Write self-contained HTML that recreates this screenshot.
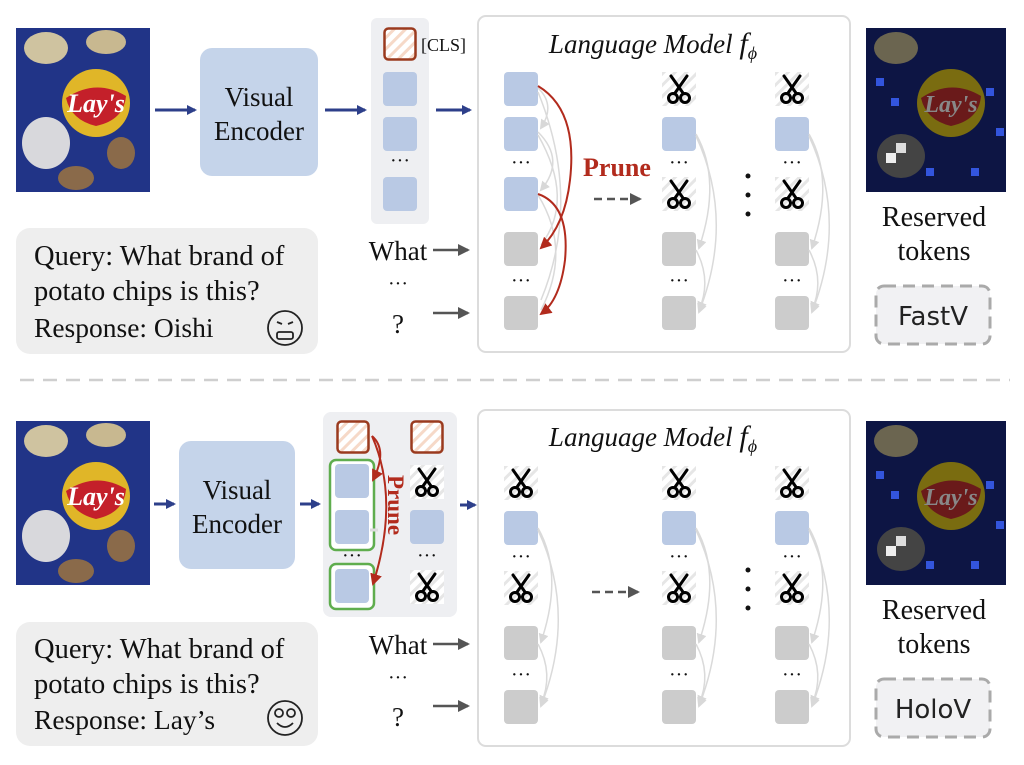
<!DOCTYPE html>
<html><head><meta charset="utf-8"><style>
html,body{margin:0;padding:0;background:#fff;}
svg{display:block;}
text{font-family:"Liberation Serif",serif;fill:#111;}
</style></head><body>
<svg width="1024" height="765" viewBox="0 0 1024 765" xmlns="http://www.w3.org/2000/svg">
<defs>
<pattern id="hatch" width="8" height="8" patternUnits="userSpaceOnUse" patternTransform="rotate(45)">
<rect width="8" height="8" fill="#fff"/><rect width="3" height="8" fill="#e6e6e6"/></pattern>
<pattern id="hatcho" width="8" height="8" patternUnits="userSpaceOnUse" patternTransform="rotate(45)">
<rect width="8" height="8" fill="#fff"/><rect width="3" height="8" fill="#f6d9c8"/></pattern>
<symbol id="sc" viewBox="0 0 34 34">
<rect width="34" height="34" fill="url(#hatch)"/>
<g stroke="#000" stroke-width="3" fill="none" stroke-linecap="round">
<line x1="13" y1="21" x2="25" y2="4"/><line x1="21" y1="21" x2="9" y2="4"/>
<circle cx="11" cy="26" r="4.5"/><circle cx="23" cy="26" r="4.5"/></g></symbol>
<symbol id="bl" viewBox="0 0 34 34"><rect width="34" height="34" rx="4" fill="#b9c9e4"/></symbol>
<symbol id="gr" viewBox="0 0 34 34"><rect width="34" height="34" rx="4" fill="#cccccc"/></symbol>
<symbol id="cls" viewBox="0 0 34 34"><rect x="1.5" y="1.5" width="31" height="31" rx="4" fill="url(#hatcho)" stroke="#9a3a1e" stroke-width="2.5"/></symbol>
<marker id="ab" markerWidth="10" markerHeight="10" refX="8" refY="5" orient="auto" markerUnits="userSpaceOnUse"><path d="M0,0 L10,5 L0,10z" fill="#2d3f8a"/></marker>
<marker id="ag" markerWidth="12" markerHeight="12" refX="10" refY="6" orient="auto" markerUnits="userSpaceOnUse"><path d="M0,0 L12,6 L0,12z" fill="#555"/></marker>
<marker id="ar" markerWidth="12" markerHeight="12" refX="10" refY="6" orient="auto" markerUnits="userSpaceOnUse"><path d="M0,0 L12,6 L0,12z" fill="#b22b1d"/></marker>
<marker id="al" markerWidth="10" markerHeight="10" refX="8" refY="5" orient="auto" markerUnits="userSpaceOnUse"><path d="M0,0 L10,5 L0,10z" fill="#d8d8d8"/></marker>
<symbol id="chips" viewBox="0 0 134 164">
<rect width="134" height="164" fill="#1f2f7a"/>
<rect x="0" y="0" width="134" height="164" fill="#23398f" opacity="0.6"/>
<ellipse cx="30" cy="20" rx="22" ry="16" fill="#cfc3a0"/>
<ellipse cx="90" cy="14" rx="20" ry="12" fill="#c8b890"/>
<circle cx="80" cy="75" r="34" fill="#e0b628"/>
<path d="M50,70 Q80,50 110,68 Q108,92 80,98 Q55,92 50,70z" fill="#c4202a"/>
<text x="80" y="84" font-size="26" font-style="italic" font-weight="bold" text-anchor="middle" style="fill:#fff">Lay's</text>
<ellipse cx="30" cy="115" rx="24" ry="26" fill="#d8d8dc"/>
<ellipse cx="105" cy="125" rx="14" ry="16" fill="#8a6a4a"/>
<ellipse cx="60" cy="150" rx="18" ry="12" fill="#8a6a4a"/>
</symbol>
<symbol id="chipsd" viewBox="0 0 140 164">
<rect width="140" height="164" fill="#0d1544"/>
<ellipse cx="30" cy="20" rx="22" ry="16" fill="#6b6550"/>
<circle cx="85" cy="75" r="34" fill="#7a6c10"/>
<path d="M55,70 Q85,50 115,68 Q113,92 85,98 Q60,92 55,70z" fill="#6a1a1a"/>
<text x="85" y="84" font-size="24" font-style="italic" font-weight="bold" text-anchor="middle" style="fill:#888">Lay's</text>
<ellipse cx="35" cy="128" rx="24" ry="22" fill="#444"/>
<rect x="10" y="50" width="8" height="8" fill="#3355dd"/><rect x="25" y="70" width="8" height="8" fill="#3355dd"/>
<rect x="120" y="60" width="8" height="8" fill="#3355dd"/><rect x="105" y="140" width="8" height="8" fill="#3355dd"/>
<rect x="60" y="140" width="8" height="8" fill="#3355dd"/><rect x="130" y="100" width="8" height="8" fill="#3355dd"/>
<rect x="30" y="115" width="10" height="10" fill="#ddd"/><rect x="20" y="125" width="10" height="10" fill="#eee"/>
</symbol>
</defs>

<!-- ============ TOP ============ -->
<use href="#chips" x="16" y="28" width="134" height="164"/>
<line x1="155" y1="110" x2="195" y2="110" stroke="#2d3f8a" stroke-width="3" marker-end="url(#ab)"/>
<rect x="200" y="48" width="118" height="128" rx="12" fill="#c5d4ea"/>
<text x="259" y="106" font-size="27" text-anchor="middle">Visual</text>
<text x="259" y="140" font-size="27" text-anchor="middle">Encoder</text>
<line x1="325" y1="110" x2="365" y2="110" stroke="#2d3f8a" stroke-width="3" marker-end="url(#ab)"/>
<rect x="371" y="18" width="58" height="206" rx="6" fill="#eeeff2"/>
<use href="#cls" x="383" y="27" width="34" height="34"/>
<text x="421" y="51" font-size="18">[CLS]</text>
<use href="#bl" x="383" y="72" width="34" height="34"/>
<use href="#bl" x="383" y="117" width="34" height="34"/>
<text x="400" y="167" font-size="20" text-anchor="middle">···</text>
<use href="#bl" x="383" y="177" width="34" height="34"/>
<line x1="436" y1="110" x2="470" y2="110" stroke="#2d3f8a" stroke-width="3" marker-end="url(#ab)"/>
<text x="398" y="260" font-size="27" text-anchor="middle">What</text>
<line x1="433" y1="250" x2="468" y2="250" stroke="#555" stroke-width="2.5" marker-end="url(#ag)"/>
<text x="398" y="290" font-size="20" text-anchor="middle">···</text>
<text x="398" y="333" font-size="27" text-anchor="middle">?</text>
<line x1="433" y1="313" x2="468" y2="313" stroke="#555" stroke-width="2.5" marker-end="url(#ag)"/>

<rect x="478" y="16" width="372" height="336" rx="8" fill="#fff" stroke="#dcdcdc" stroke-width="2"/>
<text x="653" y="53" font-size="27" font-style="italic" text-anchor="middle">Language Model  <tspan font-size="30">f</tspan><tspan font-size="18" dy="6">ϕ</tspan></text>

<!-- col1 -->
<use href="#bl" x="504" y="72" width="34" height="34"/>
<use href="#bl" x="504" y="117" width="34" height="34"/>
<text x="521" y="169" font-size="20" text-anchor="middle">···</text>
<use href="#bl" x="504" y="177" width="34" height="34"/>
<use href="#gr" x="504" y="232" width="34" height="34"/>
<text x="521" y="287" font-size="20" text-anchor="middle">···</text>
<use href="#gr" x="504" y="296" width="34" height="34"/>
<g fill="none" stroke="#dadada" stroke-width="1.5">
<path d="M538,88 Q556,105 541,128" marker-end="url(#al)"/>
<path d="M538,132 Q566,160 541,190" marker-end="url(#al)"/>
<path d="M538,135 Q575,200 541,245"/>
<path d="M538,195 Q572,250 541,310"/>
<path d="M538,92 Q582,200 541,300"/>
</g>
<g fill="none" stroke="#b22b1d" stroke-width="2">
<path d="M538,86 Q578,110 570,180 Q565,225 541,248" marker-end="url(#ar)"/>
<path d="M538,194 Q570,205 565,260 Q560,300 541,314" marker-end="url(#ar)"/>
</g>
<text x="617" y="176" font-size="26" font-weight="bold" text-anchor="middle" style="fill:#b22b1d">Prune</text>
<line x1="594" y1="199" x2="640" y2="199" stroke="#555" stroke-width="2.5" stroke-dasharray="8,5" marker-end="url(#ag)"/>

<g>
<use href="#sc" x="662" y="72" width="34" height="34"/>
<use href="#bl" x="662" y="117" width="34" height="34"/>
<text x="679" y="169" font-size="20" text-anchor="middle">···</text>
<use href="#sc" x="662" y="177" width="34" height="34"/>
<use href="#gr" x="662" y="232" width="34" height="34"/>
<text x="679" y="287" font-size="20" text-anchor="middle">···</text>
<use href="#gr" x="662" y="296" width="34" height="34"/>
<g fill="none" stroke="#dadada" stroke-width="1.5">
<path d="M696,134 Q722,180 699,248" marker-end="url(#al)"/>
<path d="M696,136 Q735,220 699,312" marker-end="url(#al)"/>
<path d="M696,250 Q712,280 699,310" marker-end="url(#al)"/>
</g>
</g>
<g transform="translate(113,0)">
<use href="#sc" x="662" y="72" width="34" height="34"/>
<use href="#bl" x="662" y="117" width="34" height="34"/>
<text x="679" y="169" font-size="20" text-anchor="middle">···</text>
<use href="#sc" x="662" y="177" width="34" height="34"/>
<use href="#gr" x="662" y="232" width="34" height="34"/>
<text x="679" y="287" font-size="20" text-anchor="middle">···</text>
<use href="#gr" x="662" y="296" width="34" height="34"/>
<g fill="none" stroke="#dadada" stroke-width="1.5">
<path d="M696,134 Q722,180 699,248" marker-end="url(#al)"/>
<path d="M696,136 Q735,220 699,312" marker-end="url(#al)"/>
<path d="M696,250 Q712,280 699,310" marker-end="url(#al)"/>
</g>
</g>
<circle cx="748" cy="176" r="2.5" fill="#111"/><circle cx="748" cy="195" r="2.5" fill="#111"/><circle cx="748" cy="214" r="2.5" fill="#111"/>

<rect x="16" y="228" width="302" height="126" rx="14" fill="#eeeeee"/>
<text x="34" y="265" font-size="28.5">Query: What brand of</text>
<text x="34" y="300" font-size="28.5">potato chips is this?</text>
<text x="34" y="337" font-size="27.5">Response: Oishi</text>
<g fill="none" stroke="#222" stroke-width="1.8">
<circle cx="285" cy="328" r="17"/>
<path d="M277,322 l5,2 M293,322 l-5,2"/>
<rect x="277" y="332" width="16" height="7" rx="2"/>
</g>

<use href="#chipsd" x="866" y="28" width="140" height="164"/>
<text x="934" y="226" font-size="28" text-anchor="middle">Reserved</text>
<text x="934" y="260" font-size="28" text-anchor="middle">tokens</text>
<rect x="876" y="286" width="114" height="58" rx="8" fill="#f1f1f3" stroke="#aaa" stroke-width="3" stroke-dasharray="12,7"/>
<text x="933" y="325" font-size="26" text-anchor="middle" style="font-family:'DejaVu Sans',sans-serif;fill:#222">FastV</text>

<line x1="20" y1="380" x2="1010" y2="380" stroke="#cfcfcf" stroke-width="2.5" stroke-dasharray="14,9"/>

<!-- ============ BOTTOM ============ -->
<use href="#chips" x="16" y="421" width="134" height="164"/>
<line x1="154" y1="504" x2="174" y2="504" stroke="#2d3f8a" stroke-width="3" marker-end="url(#ab)"/>
<rect x="179" y="441" width="116" height="128" rx="12" fill="#c5d4ea"/>
<text x="237" y="499" font-size="27" text-anchor="middle">Visual</text>
<text x="237" y="533" font-size="27" text-anchor="middle">Encoder</text>
<line x1="300" y1="504" x2="319" y2="504" stroke="#2d3f8a" stroke-width="3" marker-end="url(#ab)"/>

<rect x="323" y="412" width="134" height="205" rx="8" fill="#eeeff2"/>
<use href="#cls" x="336" y="420" width="34" height="34"/>
<rect x="330" y="460" width="44" height="90" rx="6" fill="#fff" stroke="#5fad4e" stroke-width="2.5"/>
<use href="#bl" x="335" y="464" width="34" height="34"/>
<use href="#bl" x="335" y="510" width="34" height="34"/>
<text x="352" y="562" font-size="20" text-anchor="middle">···</text>
<rect x="330" y="564" width="44" height="45" rx="6" fill="#fff" stroke="#5fad4e" stroke-width="2.5"/>
<use href="#bl" x="335" y="569" width="34" height="34"/>
<use href="#cls" x="410" y="420" width="34" height="34"/>
<use href="#sc" x="410" y="465" width="34" height="34"/>
<use href="#bl" x="410" y="510" width="34" height="34"/>
<text x="427" y="562" font-size="20" text-anchor="middle">···</text>
<use href="#sc" x="410" y="570" width="34" height="34"/>
<path d="M370,530 l8,0" stroke="#ddd" stroke-width="3"/>
<g fill="none" stroke="#b22b1d" stroke-width="2">
<path d="M372,436 Q388,450 373,480" marker-end="url(#ar)"/>
<path d="M372,436 Q400,500 373,584" marker-end="url(#ar)"/>
</g>
<text transform="translate(388,475) rotate(90)" font-size="23" font-weight="bold" style="fill:#b22b1d">Prune</text>
<line x1="460" y1="505" x2="475" y2="505" stroke="#2d3f8a" stroke-width="3" marker-end="url(#ab)"/>

<text x="398" y="654" font-size="27" text-anchor="middle">What</text>
<line x1="433" y1="644" x2="468" y2="644" stroke="#555" stroke-width="2.5" marker-end="url(#ag)"/>
<text x="398" y="684" font-size="20" text-anchor="middle">···</text>
<text x="398" y="726" font-size="27" text-anchor="middle">?</text>
<line x1="433" y1="706" x2="468" y2="706" stroke="#555" stroke-width="2.5" marker-end="url(#ag)"/>

<rect x="478" y="410" width="372" height="336" rx="8" fill="#fff" stroke="#dcdcdc" stroke-width="2"/>
<text x="653" y="446" font-size="27" font-style="italic" text-anchor="middle">Language Model  <tspan font-size="30">f</tspan><tspan font-size="18" dy="6">ϕ</tspan></text>

<g transform="translate(-158,394)">
<use href="#sc" x="662" y="72" width="34" height="34"/>
<use href="#bl" x="662" y="117" width="34" height="34"/>
<text x="679" y="169" font-size="20" text-anchor="middle">···</text>
<use href="#sc" x="662" y="177" width="34" height="34"/>
<use href="#gr" x="662" y="232" width="34" height="34"/>
<text x="679" y="287" font-size="20" text-anchor="middle">···</text>
<use href="#gr" x="662" y="296" width="34" height="34"/>
<g fill="none" stroke="#dadada" stroke-width="1.5">
<path d="M696,134 Q722,180 699,248" marker-end="url(#al)"/>
<path d="M696,136 Q735,220 699,312" marker-end="url(#al)"/>
<path d="M696,250 Q712,280 699,310" marker-end="url(#al)"/>
</g>
</g>
<g transform="translate(0,394)">
<use href="#sc" x="662" y="72" width="34" height="34"/>
<use href="#bl" x="662" y="117" width="34" height="34"/>
<text x="679" y="169" font-size="20" text-anchor="middle">···</text>
<use href="#sc" x="662" y="177" width="34" height="34"/>
<use href="#gr" x="662" y="232" width="34" height="34"/>
<text x="679" y="287" font-size="20" text-anchor="middle">···</text>
<use href="#gr" x="662" y="296" width="34" height="34"/>
<g fill="none" stroke="#dadada" stroke-width="1.5">
<path d="M696,134 Q722,180 699,248" marker-end="url(#al)"/>
<path d="M696,136 Q735,220 699,312" marker-end="url(#al)"/>
<path d="M696,250 Q712,280 699,310" marker-end="url(#al)"/>
</g>
</g>
<g transform="translate(113,394)">
<use href="#sc" x="662" y="72" width="34" height="34"/>
<use href="#bl" x="662" y="117" width="34" height="34"/>
<text x="679" y="169" font-size="20" text-anchor="middle">···</text>
<use href="#sc" x="662" y="177" width="34" height="34"/>
<use href="#gr" x="662" y="232" width="34" height="34"/>
<text x="679" y="287" font-size="20" text-anchor="middle">···</text>
<use href="#gr" x="662" y="296" width="34" height="34"/>
<g fill="none" stroke="#dadada" stroke-width="1.5">
<path d="M696,134 Q722,180 699,248" marker-end="url(#al)"/>
<path d="M696,136 Q735,220 699,312" marker-end="url(#al)"/>
<path d="M696,250 Q712,280 699,310" marker-end="url(#al)"/>
</g>
</g>
<line x1="592" y1="592" x2="638" y2="592" stroke="#555" stroke-width="2.5" stroke-dasharray="8,5" marker-end="url(#ag)"/>
<circle cx="748" cy="570" r="2.5" fill="#111"/><circle cx="748" cy="589" r="2.5" fill="#111"/><circle cx="748" cy="608" r="2.5" fill="#111"/>

<rect x="16" y="622" width="302" height="124" rx="14" fill="#eeeeee"/>
<text x="34" y="658" font-size="28.5">Query: What brand of</text>
<text x="34" y="693" font-size="28.5">potato chips is this?</text>
<text x="34" y="729" font-size="27.5">Response: Lay’s</text>
<g fill="none" stroke="#222" stroke-width="1.8">
<circle cx="285" cy="718" r="17"/>
<circle cx="279" cy="713" r="4"/><circle cx="291" cy="713" r="4"/>
<path d="M277,723 Q285,731 293,723"/>
</g>

<use href="#chipsd" x="866" y="421" width="140" height="164"/>
<text x="934" y="619" font-size="28" text-anchor="middle">Reserved</text>
<text x="934" y="653" font-size="28" text-anchor="middle">tokens</text>
<rect x="876" y="679" width="114" height="58" rx="8" fill="#f1f1f3" stroke="#aaa" stroke-width="3" stroke-dasharray="12,7"/>
<text x="933" y="718" font-size="26" text-anchor="middle" style="font-family:'DejaVu Sans',sans-serif;fill:#222">HoloV</text>
</svg>
</body></html>
